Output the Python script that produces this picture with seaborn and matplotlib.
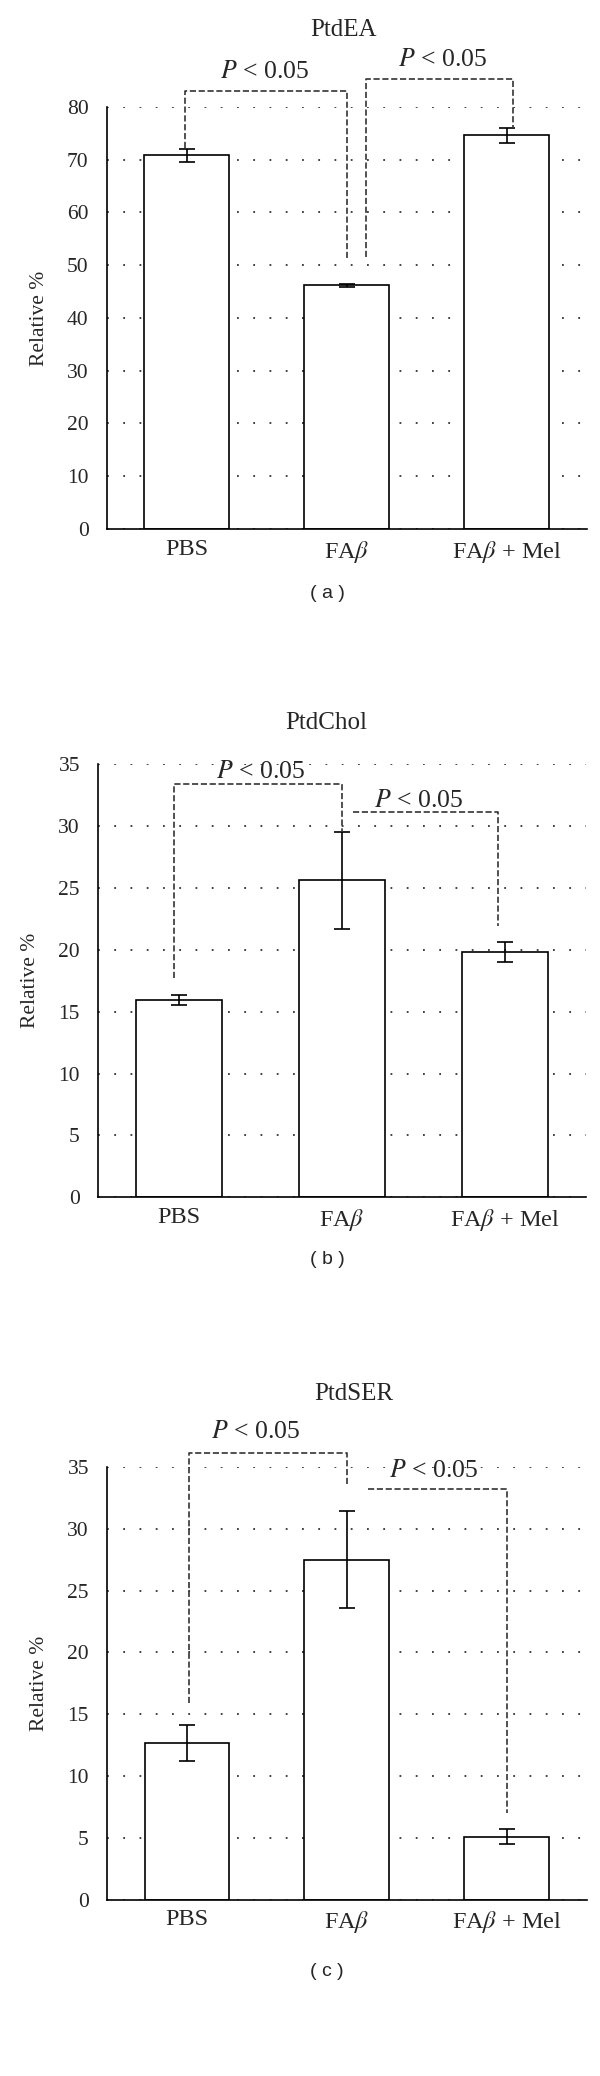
import numpy as np
import pandas as pd
import seaborn as sns
import matplotlib.pyplot as plt

# ---------------------------------------------------------
# data
# ---------------------------------------------------------
groups = ["PBS", r"FA$\beta$", r"FA$\beta$ + Mel"]

ptdea_mean = [70.8, 46.2, 74.6]
ptdea_err = [1.25, 0.3, 1.4]

ptdchol_mean = [15.9, 25.6, 19.8]
ptdchol_err = [0.4, 3.9, 0.8]

ptdser_mean = [12.7, 27.5, 5.1]
ptdser_err = [1.45, 3.9, 0.6]

# significance brackets: x_left, x_right, left leg bottom, top, right leg bottom, label x, label y
ptdea_brackets = [(-0.01, 1.0, 72.2, 83.0, 50.9, 0.49, 86.7),
                  (1.12, 2.04, 51.6, 85.2, 76.0, 1.60, 88.9)]
ptdchol_brackets = [(-0.03, 1.0, 17.7, 33.4, 29.5, 0.50, 34.3),
                    (1.07, 1.96, 31.1, 31.1, 21.9, 1.47, 32.0)]
ptdser_brackets = [(0.01, 1.0, 15.9, 36.1, 33.5, 0.43, 37.8),
                   (1.13, 2.0, 33.2, 33.2, 7.0, 1.54, 34.7)]

panels = [
    ("PtdEA", ptdea_mean, ptdea_err, ptdea_brackets, 80, 10, "( a )"),
    ("PtdChol", ptdchol_mean, ptdchol_err, ptdchol_brackets, 35, 5, "( b )"),
    ("PtdSER", ptdser_mean, ptdser_err, ptdser_brackets, 35, 5, "( c )"),
]

# layout (figure fractions)
ax_rects = [[0.1777, 0.7452, 0.800, 0.2033],
            [0.1633, 0.4232, 0.8133, 0.2089],
            [0.1783, 0.0849, 0.7995, 0.2085]]
title_pos = [(0.573, 0.9855), (0.543, 0.6517), (0.589, 0.3285)]
caption_pos = [(0.545, 0.7143), (0.545, 0.3931), (0.545, 0.0503)]

sns.set_style("white")
plt.rcParams['font.family'] = ['Liberation Serif', 'DejaVu Serif']
plt.rcParams['mathtext.fontset'] = 'stix'

fig = plt.figure(figsize=(6, 20.76), dpi=100)

for i, (name, mean, err, brackets, ymax, ystep, cap) in enumerate(panels):
    ax = fig.add_axes(ax_rects[i])
    df = pd.DataFrame({"group": groups, "value": mean})
    sns.barplot(data=df, x="group", y="value", color="white", saturation=1,
                edgecolor="black", linewidth=1.2, width=0.53, ax=ax)
    ax.errorbar(np.arange(len(groups)), mean, yerr=err, fmt="none",
                ecolor="black", elinewidth=1.2, capsize=5.5, capthick=1.2, zorder=3)

    for xl, xr, lb, top, rb, tx, ty in brackets:
        ax.plot([xl, xl, xr, xr], [lb, top, top, rb], ls="--", color="#333333",
                lw=1.2, clip_on=False, zorder=4)
        ax.text(tx, ty, r"$P$ < 0.05", ha="center", va="center", fontsize=18.5)

    ax.set_xlim(-0.5, 2.5)
    ax.set_ylim(0, ymax)
    ax.set_yticks(np.arange(0, ymax + 1, ystep))
    ax.set_xticks([-0.5, 0.5, 1.5, 2.5])
    ax.set_xticklabels([])
    ax.set_xticks([0, 1, 2], minor=True)
    ax.set_xticklabels(groups, minor=True, fontsize=17.5)
    ax.tick_params(axis="x", which="major", direction="out", length=8, width=1.2)
    ax.tick_params(axis="x", which="minor", length=0, pad=7)
    ax.tick_params(axis="y", direction="out", length=8, width=1.2, labelsize=15.5, pad=5)
    ax.set_xlabel("")
    ax.set_ylabel("Relative %", fontsize=15.5, labelpad=13)

    ax.yaxis.grid(True, linestyle=(0, (1, 8)), color="#333333", linewidth=1.3)
    ax.set_axisbelow(True)
    sns.despine(ax=ax)
    for s in ["left", "bottom"]:
        ax.spines[s].set_linewidth(1.2)
        ax.spines[s].set_color("black")

    fig.text(title_pos[i][0], title_pos[i][1], name, ha="center", va="center", fontsize=18)
    fig.text(caption_pos[i][0], caption_pos[i][1], cap, ha="center", va="center",
             fontsize=14, family="Liberation Sans")

fig.savefig("out.png", dpi=100)
